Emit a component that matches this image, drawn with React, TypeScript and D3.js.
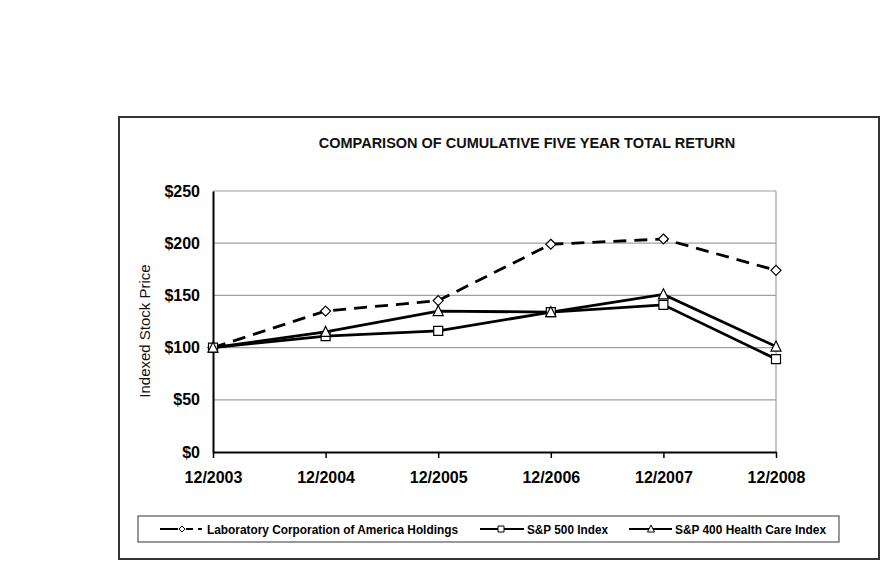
import { useEffect, useRef } from 'react';
import * as d3 from 'd3';

const years = ['12/2003', '12/2004', '12/2005', '12/2006', '12/2007', '12/2008'];
const labcorp = [100, 135, 145, 199, 204, 174];
const sp500 = [100, 111, 116, 134, 141, 89];
const healthCare = [100, 115, 135, 134, 151, 101];
const yTicks = [0, 50, 100, 150, 200, 250];

const seriesNames = [
  'Laboratory Corporation of America Holdings',
  'S&P 500 Index',
  'S&P 400 Health Care Index',
];

const WIDTH = 885;
const HEIGHT = 567;
const ARIAL = '"Liberation Sans", Arial, sans-serif';

type Marker = 'diamond' | 'square' | 'triangle';

function markerPath(kind: Marker, size: number) {
  const h = size / 2;
  if (kind === 'diamond') return `M0,${-h}L${h},0L0,${h}L${-h},0Z`;
  if (kind === 'square') return `M${-h},${-h}H${h}V${h}H${-h}Z`;
  return `M0,${-h - 1}L${h + 0.5},${h}L${-h - 0.5},${h}Z`;
}

export default function App() {
  const svgRef = useRef<SVGSVGElement>(null);

  useEffect(() => {
    if (!svgRef.current) return;
    d3.select(svgRef.current).selectAll('*').remove();

    const svg = d3.select(svgRef.current)
      .attr('width', WIDTH)
      .attr('height', HEIGHT);

    svg.append('rect')
      .attr('width', WIDTH)
      .attr('height', HEIGHT)
      .attr('fill', '#fff');

    // outer frame
    svg.append('rect')
      .attr('x', 119)
      .attr('y', 117)
      .attr('width', 760)
      .attr('height', 442)
      .attr('fill', 'none')
      .attr('stroke', '#333')
      .attr('stroke-width', 2);

    const left = 213, right = 776, top = 191, bottom = 452;

    const x = d3.scalePoint<string>().domain(years).range([left, right]).padding(0);
    const y = d3.scaleLinear().domain([0, 250]).range([bottom, top]);

    // title
    svg.append('text')
      .attr('x', 527)
      .attr('y', 148)
      .attr('text-anchor', 'middle')
      .attr('font-family', ARIAL)
      .attr('font-weight', 'bold')
      .attr('font-size', 14.5)
      .attr('fill', '#111')
      .text('COMPARISON OF CUMULATIVE FIVE YEAR TOTAL RETURN');

    // gridlines
    svg.append('g')
      .selectAll('line')
      .data(yTicks.filter(d => d > 0))
      .enter()
      .append('line')
      .attr('x1', left)
      .attr('x2', right)
      .attr('y1', d => y(d))
      .attr('y2', d => y(d))
      .attr('stroke', '#a0a0a0')
      .attr('stroke-width', 1.2);

    // right border of plot area
    svg.append('line')
      .attr('x1', right)
      .attr('x2', right)
      .attr('y1', top)
      .attr('y2', bottom)
      .attr('stroke', '#a0a0a0')
      .attr('stroke-width', 1.2);

    // y axis
    const yAxis = svg.append('g')
      .attr('transform', `translate(${left},0)`)
      .call(d3.axisLeft(y).tickValues(yTicks).tickSize(0).tickPadding(13).tickFormat(d => `$${d}`));
    yAxis.select('.domain').attr('stroke', '#000').attr('stroke-width', 2);
    yAxis.selectAll('text')
      .attr('font-family', ARIAL)
      .attr('font-weight', 'bold')
      .attr('font-size', 16)
      .attr('fill', '#000');

    // x axis
    const xAxis = svg.append('g')
      .attr('transform', `translate(0,${bottom})`)
      .call(d3.axisBottom(x).tickSizeInner(6).tickSizeOuter(0).tickPadding(14));
    xAxis.select('.domain').attr('stroke', '#000').attr('stroke-width', 2);
    xAxis.selectAll('.tick line').attr('stroke', '#000').attr('stroke-width', 1.5);
    xAxis.selectAll('text')
      .attr('font-family', ARIAL)
      .attr('font-weight', 'bold')
      .attr('font-size', 16)
      .attr('fill', '#000');

    // y axis title
    svg.append('text')
      .attr('transform', `translate(150,331) rotate(-90)`)
      .attr('text-anchor', 'middle')
      .attr('font-family', ARIAL)
      .attr('font-size', 15)
      .attr('fill', '#111')
      .text('Indexed Stock Price');

    const series: { values: number[]; marker: Marker; dash: string | null }[] = [
      { values: labcorp, marker: 'diamond', dash: '13,8' },
      { values: sp500, marker: 'square', dash: null },
      { values: healthCare, marker: 'triangle', dash: null },
    ];

    const line = d3.line<number>()
      .x((_, i) => x(years[i]) as number)
      .y(d => y(d));

    series.forEach(s => {
      svg.append('path')
        .datum(s.values)
        .attr('d', line)
        .attr('fill', 'none')
        .attr('stroke', '#000')
        .attr('stroke-width', 2.8)
        .attr('stroke-dasharray', s.dash);
    });

    series.forEach(s => {
      svg.append('g')
        .selectAll('path')
        .data(s.values)
        .enter()
        .append('path')
        .attr('transform', (d, i) => `translate(${x(years[i])},${y(d)})`)
        .attr('d', markerPath(s.marker, s.marker === 'diamond' ? 10 : 9))
        .attr('fill', '#fff')
        .attr('stroke', '#000')
        .attr('stroke-width', 1.2);
    });

    // legend
    svg.append('rect')
      .attr('x', 138)
      .attr('y', 516)
      .attr('width', 701)
      .attr('height', 26)
      .attr('fill', '#fff')
      .attr('stroke', '#555')
      .attr('stroke-width', 1.2);

    const legendItems = [
      { lineX: [160, 203], markX: 182, textX: 207, textW: 251, marker: 'diamond' as Marker, dash: true },
      { lineX: [480, 524], markX: 501, textX: 527, textW: 81, marker: 'square' as Marker, dash: false },
      { lineX: [629, 672], markX: 651, textX: 675, textW: 151, marker: 'triangle' as Marker, dash: false },
    ];
    const ly = 529;

    legendItems.forEach((item, i) => {
      const g = svg.append('g');
      if (item.dash) {
        g.append('line').attr('x1', item.lineX[0]).attr('x2', item.markX - 4)
          .attr('y1', ly).attr('y2', ly).attr('stroke', '#000').attr('stroke-width', 2);
        g.append('line').attr('x1', item.markX + 4).attr('x2', item.markX + 11)
          .attr('y1', ly).attr('y2', ly).attr('stroke', '#000').attr('stroke-width', 2);
        g.append('line').attr('x1', item.lineX[1] - 5).attr('x2', item.lineX[1] - 1)
          .attr('y1', ly).attr('y2', ly).attr('stroke', '#000').attr('stroke-width', 2);
      } else {
        g.append('line').attr('x1', item.lineX[0]).attr('x2', item.lineX[1])
          .attr('y1', ly).attr('y2', ly).attr('stroke', '#000').attr('stroke-width', 2);
      }
      g.append('path')
        .attr('transform', `translate(${item.markX},${ly})`)
        .attr('d', markerPath(item.marker, 6))
        .attr('fill', '#fff')
        .attr('stroke', '#000')
        .attr('stroke-width', 1);
      g.append('text')
        .attr('x', item.textX)
        .attr('y', ly + 5)
        .attr('font-family', ARIAL)
        .attr('font-weight', 'bold')
        .attr('font-size', 13.5)
        .attr('textLength', item.textW)
        .attr('lengthAdjust', 'spacingAndGlyphs')
        .attr('fill', '#000')
        .text(seriesNames[i]);
    });
  }, []);

  return <svg ref={svgRef} style={{ position: 'absolute', left: 0, top: 0 }} />;
}
